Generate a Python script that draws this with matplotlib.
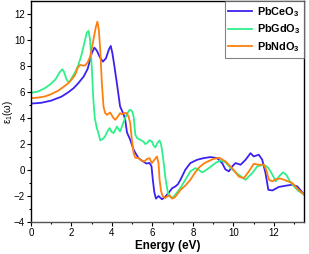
import matplotlib
matplotlib.use("Agg")
import matplotlib.pyplot as plt

plt.rcParams['font.family'] = ['Liberation Sans', 'DejaVu Sans']
plt.rcParams['mathtext.fontset'] = 'custom'
plt.rcParams['mathtext.rm'] = 'Liberation Sans'
plt.rcParams['mathtext.bf'] = 'Liberation Sans:bold'

labels = ['PbCeO$_\\mathbf{3}$', 'PbGdO$_\\mathbf{3}$', 'PbNdO$_\\mathbf{3}$']
colors = ['#3b22f0', '#2ef08a', '#ff7f0e']

ce_E = [0, 0.5, 1.0, 1.5, 1.85, 2.1, 2.34, 2.6, 2.8, 3.0, 3.13, 3.25, 3.4, 3.55, 3.7, 3.85, 3.94, 4.02, 4.1, 4.24,
        4.4, 4.57, 4.65, 4.74, 4.9, 5.07, 5.2, 5.31, 5.45, 5.56, 5.7, 5.85, 5.95, 6.02, 6.09, 6.17, 6.3, 6.47, 6.63,
        6.8, 6.97, 7.13, 7.25, 7.38, 7.62, 7.87, 8.2, 8.53, 8.86, 9.19, 9.44, 9.6, 9.77, 9.95, 10.1, 10.35, 10.6,
        10.84, 11.0, 11.25, 11.42, 11.58, 11.72, 11.92, 12.24, 12.6, 12.9, 13.15, 13.5]
ce_v = [5.12, 5.18, 5.35, 5.65, 6.0, 6.3, 6.7, 7.2, 7.8, 9.0, 9.43, 9.2, 8.7, 8.35, 8.6, 9.3, 9.56, 9.0, 8.2, 6.7,
        4.9, 4.3, 3.9, 2.9, 2.33, 1.56, 1.2, 0.92, 0.75, 0.65, 0.5, 0.55, 0.3, -0.8, -1.7, -2.2, -2.0, -2.25, -2.05,
        -1.75, -1.4, -1.26, -1.1, -0.75, 0.02, 0.54, 0.79, 0.92, 1.0, 0.92, 0.54, 0.05, -0.1, 0.3, 0.54, 0.41, 0.8,
        1.3, 1.05, 1.18, 0.79, -0.23, -1.52, -1.57, -1.3, -1.2, -1.13, -1.26, -1.9]

gd_E = [0, 0.35, 0.69, 0.95, 1.19, 1.35, 1.44, 1.55, 1.62, 1.68, 1.75, 1.82, 1.9, 2.01, 2.2, 2.34, 2.5, 2.67, 2.76,
        2.84, 2.92, 3.0, 3.08, 3.15, 3.25, 3.32, 3.42, 3.55, 3.66, 3.78, 3.88, 3.98, 4.08, 4.16, 4.24, 4.32, 4.4,
        4.52, 4.62, 4.74, 4.85, 4.93, 5.0, 5.07, 5.15, 5.25, 5.4, 5.55, 5.64, 5.73, 5.85, 5.97, 6.05, 6.14, 6.25,
        6.35, 6.42, 6.47, 6.55, 6.63, 6.72, 6.8, 6.97, 7.13, 7.38, 7.62, 7.87, 8.12, 8.3, 8.45, 8.6, 8.78, 9.11,
        9.36, 9.6, 9.9, 10.26, 10.59, 10.93, 11.17, 11.5, 11.7, 11.83, 12.0, 12.08, 12.24, 12.44, 12.6, 12.8,
        12.99, 13.2, 13.5]
gd_v = [5.95, 6.05, 6.31, 6.6, 6.95, 7.35, 7.58, 7.76, 7.6, 7.33, 7.0, 6.82, 6.78, 7.08, 7.6, 8.1, 8.9, 10.02, 10.6,
        10.72, 10.0, 7.97, 5.4, 4.0, 3.23, 2.9, 2.28, 2.4, 2.6, 3.0, 3.23, 2.95, 2.85, 3.1, 3.35, 3.15, 2.97,
        3.48, 3.9, 4.33, 4.6, 4.64, 4.5, 4.12, 2.72, 2.45, 2.33, 2.2, 2.0, 2.08, 2.3, 2.2, 1.9, 1.74, 2.1,
        2.28, 2.0, 1.56, 0.6, -0.5, -1.4, -2.0, -2.15, -1.9, -1.38, -0.75, -0.1, 0.15, 0.0, -0.18, -0.05, 0.15, 0.54,
        0.74, 0.6, 0.1, -0.36, -0.75, -0.23, 0.28, 0.41, 0.2, -0.1, -0.6, -0.87, -0.5, -0.18, -0.35, -0.9,
        -1.26, -1.6, -1.9]

nd_E = [0, 0.35, 0.69, 1.0, 1.35, 1.6, 1.85, 2.05, 2.18, 2.3, 2.42, 2.55, 2.67, 2.8, 2.92, 3.08, 3.2, 3.28, 3.35,
        3.42, 3.5, 3.58, 3.66, 3.75, 3.83, 3.91, 4.0, 4.08, 4.16, 4.28, 4.4, 4.5, 4.6, 4.74, 4.82, 4.9, 4.98, 5.07,
        5.15, 5.31, 5.45, 5.6, 5.72, 5.85, 5.97, 6.1, 6.22, 6.3, 6.35, 6.42, 6.5, 6.63, 6.75, 6.85, 6.97, 7.1,
        7.25, 7.4, 7.62, 7.87, 8.1, 8.3, 8.53, 8.78, 9.0, 9.3, 9.6, 9.93, 10.26, 10.51, 10.76, 11.0, 11.25, 11.5,
        11.62, 11.75, 11.92, 12.1, 12.3, 12.5, 12.9, 13.2, 13.5]
nd_v = [5.54, 5.58, 5.67, 5.85, 6.12, 6.4, 6.7, 7.05, 7.33, 7.85, 8.1, 8.05, 8.05, 8.3, 8.74, 10.0, 11.0, 11.43, 10.8,
        9.25, 6.7, 4.9, 4.4, 4.25, 4.35, 4.43, 4.2, 4.0, 3.87, 4.1, 4.38, 4.3, 4.4, 4.38, 4.1, 3.62, 2.33, 1.3,
        0.95, 0.92, 0.75, 0.67, 0.85, 0.92, 0.54, 0.8, 1.05, 0.5, -0.75, -1.6, -2.0, -2.15, -2.0, -1.95, -2.2, -2.1,
        -1.8, -1.5, -1.2, -0.75, -0.2, 0.2, 0.5, 0.7, 0.85, 0.95, 0.67, 0.15, -0.5, -0.62, -0.1, 0.48, 0.41, 0.41,
        0.0, -0.75, -0.87, -0.7, -0.65, -0.75, -1.0, -1.5, -1.9]

xticks = [0, 2, 4, 6, 8, 10, 12]
yticks = [-4, -2, 0, 2, 4, 6, 8, 10, 12]

fig = plt.figure(figsize=(3.09, 2.54), dpi=100)
ax = fig.add_axes([0.1003, 0.126, 0.8847, 0.869])

series = [(ce_E, ce_v), (gd_E, gd_v), (nd_E, nd_v)]
for (E, v), lab, c in zip(series, labels, colors):
    ax.plot(E, v, color=c, lw=1.3, label=lab)

ax.set_xlim(0, 13.5)
ax.set_ylim(-4, 13)
ax.set_xticks(xticks)
ax.set_yticks(yticks)
ax.set_xticks([1, 3, 5, 7, 9, 11, 13], minor=True)
ax.set_yticks([-3, -1, 1, 3, 5, 7, 9, 11], minor=True)
ax.tick_params(which='major', direction='out', length=3, width=0.8, labelsize=7, pad=1.5)
ax.tick_params(which='minor', direction='out', length=1.5, width=0.8)
for s in ax.spines.values():
    s.set_linewidth(1.0)
ax.spines['bottom'].set_color('#555555')

ax.set_xlabel('Energy (eV)', fontsize=8.5, fontweight='bold', labelpad=1)
ax.set_ylabel('ε$_1$(ω)', fontsize=7, labelpad=0)
ax.yaxis.set_label_coords(-0.058, 0.5)

leg = ax.legend(loc='upper right', frameon=True, fancybox=False, borderaxespad=0,
                handlelength=2.2, handletextpad=0.45, borderpad=0.35, labelspacing=0.35,
                prop={'weight': 'bold', 'size': 7.8})
leg.get_frame().set_edgecolor('#666666')
leg.get_frame().set_linewidth(0.8)

fig.savefig('out.png', dpi=100)
